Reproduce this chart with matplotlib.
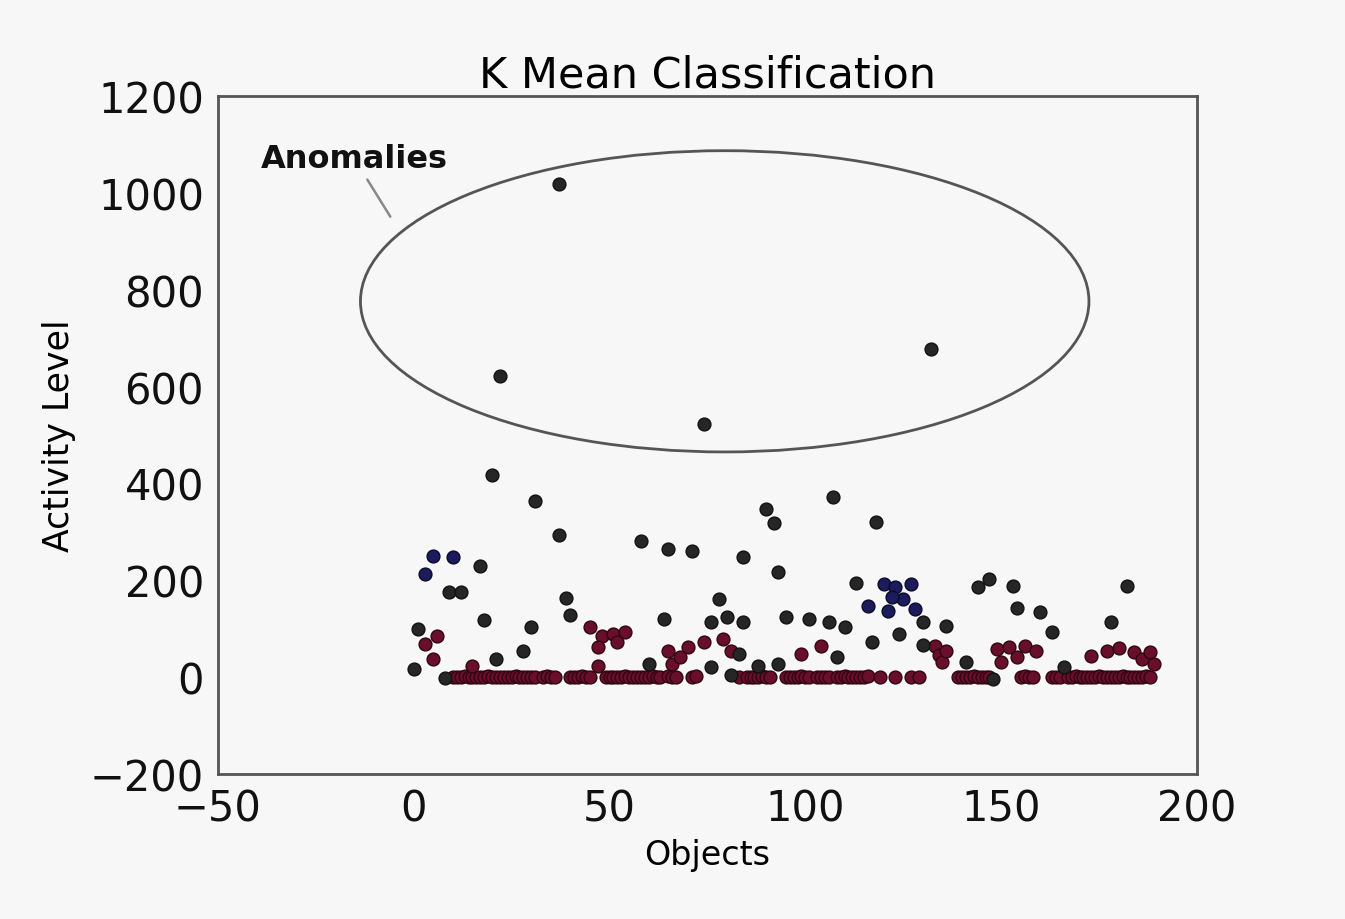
import matplotlib
matplotlib.use("Agg")
import matplotlib.pyplot as plt
from matplotlib.patches import Ellipse

# objects in the low-activity cluster sitting on the zero line
red_band_x = [10, 11, 12, 13, 14, 15, 16, 17, 18, 19, 20, 21, 22, 23, 24, 25, 26, 27, 28, 29, 30, 31,
              33, 34, 35, 36, 40, 41, 42, 43, 44, 45,
              49, 50, 51, 52, 53, 54, 55, 56, 57, 58, 59, 60, 61, 62, 63,
              65, 66, 67, 71, 72, 83, 85, 86, 87, 88, 89, 90, 91,
              95, 96, 97, 98, 99, 100, 101, 103, 104, 105, 106,
              108, 109, 110, 111, 112, 113, 114, 115, 116, 119, 123, 127, 129,
              139, 140, 141, 142, 143, 144, 145, 146, 147, 155, 156, 157, 158, 163, 164, 165,
              167, 168, 169, 170, 171, 172, 173, 174, 175, 176, 177, 178, 179, 180, 181, 182,
              183, 184, 185, 186, 187, 188]
red_band_y = [0, 1, 0, 2, 0, 0, 1, 0, 0, 2, 0, 0, 1, 0, 0, 0, 2, 0, 0, 1, 0, 0,
              0, 2, 0, 0, 1, 0, 0, 2, 0, 0,
              0, 0, 1, 0, 0, 2, 0, 0, 0, 1, 0, 0, 2, 0, 0,
              3, 0, 1, 0, 2, 0, 0, 1, 0, 0, 2, 0, 0,
              0, 1, 0, 0, 2, 0, 0, 0, 1, 0, 0,
              0, 0, 2, 0, 1, 0, 0, 0, 2, 0, 0, 1, 0,
              0, 1, 0, 0, 2, 0, 0, 1, 0, 0, 2, 0, 0, 0, 1, 0,
              0, 0, 2, 0, 0, 1, 0, 0, 3, 0, 0, 1, 0, 0, 2, 0,
              0, 1, 0, 0, 2, 0]

# low-activity objects lifted off the zero line
red_x = [6, 3, 5, 15, 45, 48, 47, 51, 54, 52, 47, 65, 66, 70, 68, 74, 79, 81, 99, 104,
         133, 134, 135, 136, 149, 152, 156, 159, 150, 154, 173, 177, 180, 184, 186, 188, 189]
red_y = [85, 68, 37, 23, 103, 85, 62, 89, 93, 72, 23, 54, 27, 62, 41, 72, 78, 54, 47, 64,
         64, 45, 31, 55, 58, 62, 64, 54, 31, 41, 43, 54, 60, 52, 37, 52, 27]

blue_x = [5, 10, 3, 120, 123, 127, 116, 121, 125, 128, 122]
blue_y = [250, 248, 213, 192, 186, 192, 147, 136, 161, 140, 165]

black_x = [37, 22, 74, 132, 20, 31, 37, 17, 18, 9, 12, 39, 40, 58, 65, 71, 64, 30, 28, 21, 0, 8,
           60, 1, 107, 90, 92, 118, 84, 93, 113, 78, 76, 80, 84, 95, 101, 106, 110, 117, 124, 130,
           130, 136, 141, 76, 81, 88, 93, 108, 83,
           144, 147, 153, 154, 160, 163, 182, 178, 166, 148]
black_y = [1018, 621, 522, 677, 417, 363, 293, 230, 118, 176, 176, 163, 128, 281, 264, 260, 120, 103,
           54, 37, 17, -2, 27, 99, 372, 347, 318, 320, 248, 217, 194, 161, 114, 124, 114, 124, 120,
           114, 103, 72, 89, 66, 114, 105, 31, 21, 4, 23, 27, 41, 47,
           186, 202, 188, 142, 134, 93, 188, 114, 21, -4]

x_ticks = [-50, 0, 50, 100, 150, 200]
y_ticks = [-200, 0, 200, 400, 600, 800, 1000, 1200]

plt.rcParams["font.family"] = "DejaVu Sans"

bg = "#f7f7f7"
fig = plt.figure(figsize=(13.45, 9.2), dpi=100, facecolor=bg)
ax = fig.add_axes([0.162, 0.1576, 0.728, 0.737], facecolor=bg)

marker = dict(s=85, linewidths=1, zorder=3)
ax.scatter(red_band_x, red_band_y, c="#6a0f2b", edgecolors="#300512", **marker)
ax.scatter(red_x, red_y, c="#6a0f2b", edgecolors="#300512", **marker)
ax.scatter(blue_x, blue_y, c="#1c1c5c", edgecolors="#0a0a2a", **marker)
ax.scatter(black_x, black_y, c="#262626", edgecolors="#111111", **marker)

ax.add_patch(Ellipse((79.4, 776), 186, 622, fill=False, edgecolor="#555555", linewidth=2, zorder=2))
ax.annotate("Anomalies", xy=(-5.6, 946), xytext=(-39, 1070),
            fontsize=23, fontweight="bold", color="#111111", va="center",
            arrowprops=dict(arrowstyle="-", color="#888888", lw=1.8))

ax.set_xlim(-50, 200)
ax.set_ylim(-200, 1200)
ax.set_xticks(x_ticks)
ax.set_yticks(y_ticks)
ax.tick_params(length=0, labelsize=30, pad=10, colors="#111111")
for spine in ax.spines.values():
    spine.set_color("#555555")
    spine.set_linewidth(2)

ax.set_title("K Mean Classification", fontsize=31, pad=6)
ax.set_xlabel("Objects", fontsize=24, labelpad=6)
ax.set_ylabel("Activity Level", fontsize=25, labelpad=10)

fig.savefig("out.png", dpi=100, facecolor=bg)
